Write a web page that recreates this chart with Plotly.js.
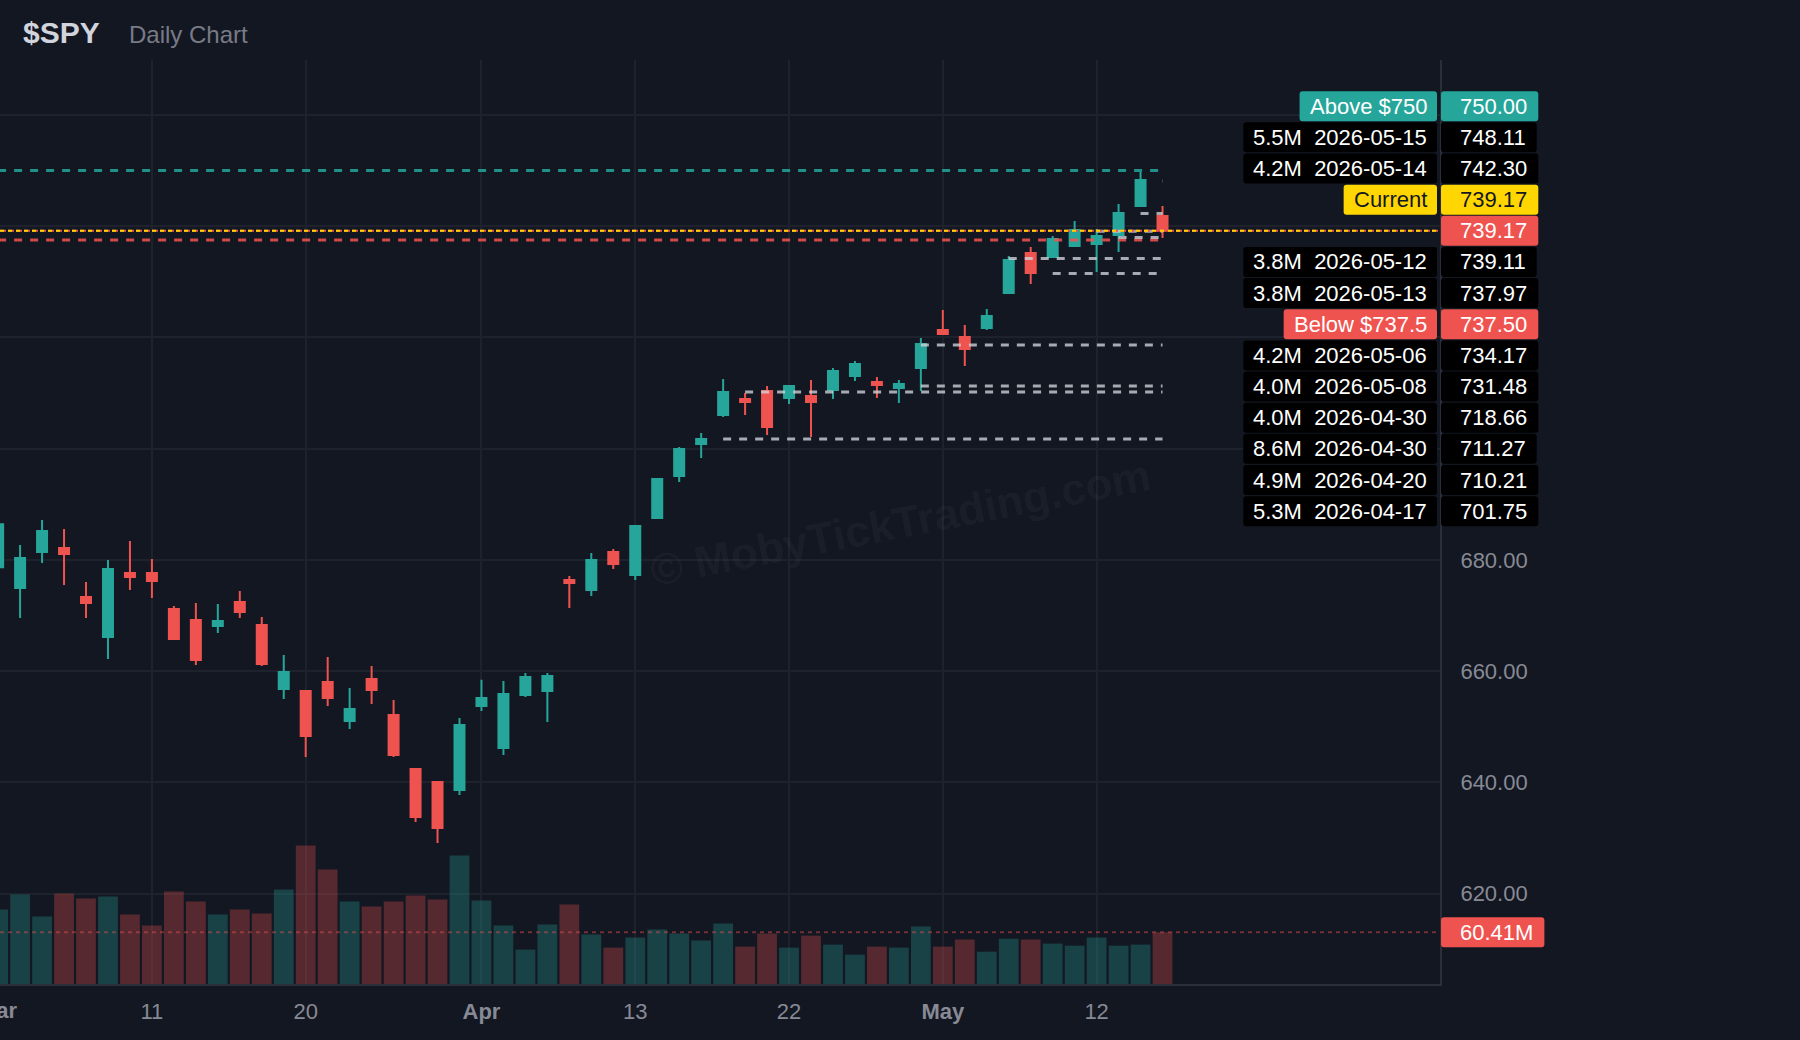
<!DOCTYPE html>
<html>
<head>
<meta charset="utf-8">
<script src="https://cdn.plot.ly/plotly-3.0.1.min.js"></script>
<style>
  html, body { margin: 0; padding: 0; background: #131722; }
  #chart { width: 1800px; height: 1040px; }
</style>
</head>
<body>
<div id="chart"></div>
<script>
// ---------------- DATA ----------------
const dates = [
  '2026-03-02','2026-03-03','2026-03-04','2026-03-05','2026-03-06','2026-03-09','2026-03-10','2026-03-11','2026-03-12','2026-03-13',
  '2026-03-16','2026-03-17','2026-03-18','2026-03-19','2026-03-20','2026-03-23','2026-03-24','2026-03-25','2026-03-26','2026-03-27',
  '2026-03-30','2026-03-31','2026-04-01','2026-04-02','2026-04-06','2026-04-07','2026-04-08','2026-04-09','2026-04-10','2026-04-13',
  '2026-04-14','2026-04-15','2026-04-16','2026-04-17','2026-04-20','2026-04-21','2026-04-22','2026-04-23','2026-04-24','2026-04-27',
  '2026-04-28','2026-04-29','2026-04-30','2026-05-01','2026-05-04','2026-05-05','2026-05-06','2026-05-07','2026-05-08','2026-05-11',
  '2026-05-12','2026-05-13','2026-05-14','2026-05-15'
];
const open = [
  678.70,674.97,681.44,682.16,673.35,666.16,677.66,677.66,671.19,669.21,
  668.13,672.45,668.31,656.81,656.45,658.07,651.05,658.60,652.13,642.42,
  640.09,638.65,653.75,646.20,655.73,656.45,676.40,674.61,681.44,677.30,
  687.55,695.10,700.86,706.07,708.95,710.39,709.13,709.49,710.57,713.08,
  712.00,710.92,714.52,721.35,720.09,721.71,728.00,735.20,734.48,736.45,
  736.81,738.43,743.65,741.85
];
const high = [
  688.00,682.70,687.19,685.57,676.04,680.00,683.42,680.18,671.73,672.27,
  672.09,674.43,669.75,662.92,656.63,662.56,656.99,660.94,654.83,642.60,
  640.27,651.59,658.43,658.25,659.68,659.68,677.12,681.26,681.98,686.29,
  694.70,700.32,702.83,712.54,710.03,711.28,711.46,712.36,714.52,715.78,
  712.90,712.36,719.91,724.95,722.25,725.13,734.66,736.28,738.25,740.95,
  739.51,744.01,749.76,743.65
];
const low = [
  677.50,669.57,679.46,675.51,669.57,662.20,674.61,673.17,665.62,661.12,
  666.88,669.57,660.94,655.01,644.58,653.75,649.62,654.11,644.58,632.89,
  629.12,637.75,652.85,644.94,655.37,650.87,671.37,673.53,678.38,676.40,
  687.40,694.02,698.34,705.71,706.07,702.47,708.05,702.11,708.95,712.18,
  709.13,708.23,710.39,720.45,714.88,721.35,727.83,729.62,734.48,736.45,
  731.78,735.38,743.47,737.89
];
const close = [
  686.40,680.36,685.21,681.08,672.27,678.38,676.94,676.22,665.80,662.02,
  669.03,670.65,661.30,659.86,648.36,655.19,653.21,656.63,644.94,633.79,
  631.82,650.33,655.19,655.91,658.96,659.14,675.86,680.00,679.28,686.11,
  694.56,699.96,701.76,710.21,708.41,703.91,711.28,708.41,713.98,715.24,
  711.46,711.64,718.83,720.63,717.94,723.87,733.94,731.60,737.71,739.33,
  738.25,742.39,748.32,739.17
];
// volume in millions of shares
const volume = [
  87.0,104.5,78.8,105.7,99.9,102.2,81.1,68.3,108.1,96.4,
  81.1,87.0,82.3,110.4,161.9,133.8,96.4,90.5,96.4,103.4,
  98.7,150.2,97.5,68.3,40.2,69.4,92.8,57.7,42.5,54.2,
  63.6,58.9,50.7,70.6,43.7,58.9,42.5,56.5,46.0,34.3,
  43.7,42.5,67.1,43.7,51.9,37.8,53.0,51.9,47.2,44.8,
  54.2,44.8,46.0,60.41
];

// price levels (dashed lines + labels on the right)
const levelPrices  = [748.11, 742.30, 739.11, 737.97, 734.17, 731.48, 718.66, 711.27, 710.21, 701.75];
const levelDates   = ['2026-05-15','2026-05-14','2026-05-12','2026-05-13','2026-05-06','2026-05-08','2026-04-30','2026-04-30','2026-04-20','2026-04-17'];
const levelVolumes = [5.5, 4.2, 3.8, 3.8, 4.2, 4.0, 4.0, 8.6, 4.9, 5.3];

const alertAbove = 750;
const alertBelow = 737.5;

const xTickDates  = ['2026-03-02','2026-03-11','2026-03-20','2026-04-01','2026-04-13','2026-04-22','2026-05-01','2026-05-12'];
const xTickLabels = ['Mar','11','20','Apr','13','22','May','12'];
const yTickValues = [620, 640, 660, 680, 700, 720, 740, 760];
const yTickShown  = [620, 640, 660, 680];

const symbol = '$SPY';
const subtitle = 'Daily Chart';
const watermark = '\u00A9 MobyTickTrading.com';

// ---------------- STYLE / LAYOUT CONSTANTS ----------------
const FONT = '"Liberation Sans", Arial, sans-serif';
const BG = '#131722', GRID = '#1e222d', AXIS = '#2a2e39', TICK = '#878a94';
const TEAL = '#26a69a', RED = '#ef5350', YELLOW = '#ffd600';
const W = 1800, H = 1040, M = {l: 0, r: 360, t: 60, b: 56};
const plotW = W - M.l - M.r, plotH = H - M.t - M.b;
const xRange = [0.085, 65.63];
const yRange = [603.75, 769.88];
const volMax = Math.max(...volume) / 0.15;   // volume pane = bottom 15%
const ROW = 31.15, BOXH = 30;

const pxX = px => (px - M.l) / plotW;
const pxY = py => (M.t + plotH - py) / plotH;
const priceToPx = v => M.t + (yRange[1] - v) / (yRange[1] - yRange[0]) * plotH;
const volToPx = v => M.t + plotH - v / volMax * plotH;

const cv = document.createElement('canvas').getContext('2d');
cv.font = '22px "Liberation Sans", Arial, sans-serif';
const measure = t => cv.measureText(t).width;

function rrect(x0, x1, y0, y1, r) {
  const X = v => pxX(v), Y = v => pxY(v);
  return `M${X(x0 + r)},${Y(y0)} L${X(x1 - r)},${Y(y0)} Q${X(x1)},${Y(y0)} ${X(x1)},${Y(y0 + r)} ` +
         `L${X(x1)},${Y(y1 - r)} Q${X(x1)},${Y(y1)} ${X(x1 - r)},${Y(y1)} L${X(x0 + r)},${Y(y1)} ` +
         `Q${X(x0)},${Y(y1)} ${X(x0)},${Y(y1 - r)} L${X(x0)},${Y(y0 + r)} Q${X(x0)},${Y(y0)} ${X(x0 + r)},${Y(y0)} Z`;
}

// ---------------- TRACES ----------------
const last = close.length - 1;
const lastClose = close[last];
const lastColor = close[last] >= open[last] ? TEAL : RED;

const volColors = close.map((c, i) => c >= open[i] ? 'rgba(38,166,154,0.3)' : 'rgba(239,83,80,0.3)');

const traces = [
  {
    type: 'bar', x: dates, y: volume, yaxis: 'y2',
    marker: {color: volColors, line: {width: 0}},
    hoverinfo: 'skip'
  },
  {
    type: 'candlestick', x: dates, open: open, high: high, low: low, close: close,
    increasing: {line: {color: TEAL, width: 2}, fillcolor: TEAL},
    decreasing: {line: {color: RED, width: 2}, fillcolor: RED},
    whiskerwidth: 0, hoverinfo: 'skip'
  }
];

// ---------------- SHAPES ----------------
const shapes = [];
const lastIdx = last;
// alert lines
shapes.push({type: 'line', layer: 'above', xref: 'x', yref: 'y', x0: 0, x1: lastIdx, y0: alertAbove, y1: alertAbove,
             line: {color: 'rgba(38,166,154,0.85)', width: 3, dash: '8px,8px'}});
shapes.push({type: 'line', layer: 'above', xref: 'x', yref: 'y', x0: 0, x1: lastIdx, y0: alertBelow, y1: alertBelow,
             line: {color: 'rgba(239,83,80,0.85)', width: 3, dash: '8px,8px'}});
// level lines
levelPrices.forEach((p, i) => {
  shapes.push({type: 'line', layer: 'above', xref: 'x', yref: 'y',
               x0: dates.indexOf(levelDates[i]), x1: lastIdx, y0: p, y1: p,
               line: {color: 'rgba(210,212,218,0.78)', width: 3, dash: '8px,8px'}});
});
// last price + current lines
shapes.push({type: 'line', layer: 'above', xref: 'paper', yref: 'y', x0: 0, x1: 1, y0: lastClose, y1: lastClose,
             line: {color: lastColor, width: 2, dash: '6px,2px'}});
shapes.push({type: 'line', layer: 'above', xref: 'paper', yref: 'y', x0: 0, x1: 1, y0: lastClose, y1: lastClose,
             line: {color: YELLOW, width: 2, dash: '4px,4px'}});
// last volume line
shapes.push({type: 'line', layer: 'above', xref: 'paper', yref: 'y2', x0: 0, x1: 1, y0: volume[last], y1: volume[last],
             line: {color: 'rgba(239,83,80,0.42)', width: 2, dash: '4px,4px'}});

// ---------------- RIGHT-SIDE LABEL STACK ----------------
const rows = [];
rows.push({price: alertAbove, label: 'Above $' + alertAbove, bg: TEAL, fg: '#ffffff', tie: 0});
levelPrices.forEach((p, i) => rows.push({
  price: p, label: levelVolumes[i].toFixed(1) + 'M\u00A0\u00A0' + levelDates[i], bg: '#000000', fg: '#ffffff', tie: 0}));
rows.push({price: lastClose, label: 'Current', bg: YELLOW, fg: '#131722', tie: 0});
rows.push({price: lastClose, label: null, bg: lastColor, fg: '#ffffff', tie: 1, anchor: true});
rows.push({price: alertBelow, label: 'Below $' + alertBelow, bg: RED, fg: '#ffffff', tie: 0});
rows.sort((a, b) => (b.price - a.price) || (a.tie - b.tie));
const k = rows.findIndex(r => r.anchor);
const anchorPx = priceToPx(lastClose);

const annotations = [];
const PRICE_X0 = 1441, LABEL_X1 = 1437;
rows.forEach((r, i) => {
  const cy = anchorPx + (i - k) * ROW;
  const priceText = r.price.toFixed(2);
  const pw = measure(priceText) + 30;
  shapes.push({type: 'path', layer: 'above', xref: 'paper', yref: 'paper',
               path: rrect(PRICE_X0, PRICE_X0 + pw, cy - BOXH / 2, cy + BOXH / 2, 3),
               fillcolor: r.bg, line: {width: 0}});
  annotations.push({xref: 'paper', yref: 'paper', x: pxX(PRICE_X0 + pw - 11), y: pxY(cy),
                    xanchor: 'right', yanchor: 'middle', text: priceText, showarrow: false,
                    borderpad: 0, borderwidth: 0, font: {family: FONT, size: 22, color: r.fg}});
  if (r.label) {
    const lw = measure(r.label) + 20;
    shapes.push({type: 'path', layer: 'above', xref: 'paper', yref: 'paper',
                 path: rrect(LABEL_X1 - lw, LABEL_X1, cy - BOXH / 2, cy + BOXH / 2, 3),
                 fillcolor: r.bg, line: {width: 0}});
    annotations.push({xref: 'paper', yref: 'paper', x: pxX(LABEL_X1 - 10), y: pxY(cy),
                      xanchor: 'right', yanchor: 'middle', text: r.label, showarrow: false,
                      borderpad: 0, borderwidth: 0, font: {family: FONT, size: 22, color: r.fg}});
  }
});

// volume label
{
  const cy = volToPx(volume[last]);
  const t = volume[last].toFixed(2) + 'M';
  const w = measure(t) + 30;
  shapes.push({type: 'path', layer: 'above', xref: 'paper', yref: 'paper',
               path: rrect(PRICE_X0, PRICE_X0 + w, cy - 15, cy + 15, 3),
               fillcolor: lastColor, line: {width: 0}});
  annotations.push({xref: 'paper', yref: 'paper', x: pxX(PRICE_X0 + w - 11), y: pxY(cy),
                    xanchor: 'right', yanchor: 'middle', text: t, showarrow: false,
                    borderpad: 0, borderwidth: 0, font: {family: FONT, size: 22, color: '#ffffff'}});
}

// x ticks (ticks out of range become annotations so they can be partially cut, as in the original)
const tickvals = [], ticktext = [];
xTickDates.forEach((d, i) => {
  const idx = dates.indexOf(d);
  const lab = /^[A-Za-z]/.test(xTickLabels[i]) ? '<b>' + xTickLabels[i] + '</b>' : xTickLabels[i];
  if (idx >= xRange[0] && idx <= xRange[1]) { tickvals.push(d); ticktext.push(lab); }
  else {
    annotations.push({xref: 'paper', yref: 'paper', x: (idx - xRange[0]) / (xRange[1] - xRange[0]),
                      y: pxY(1010.5), xanchor: 'center', yanchor: 'middle', text: lab, showarrow: false,
                      borderpad: 0, borderwidth: 0, font: {family: FONT, size: 22, color: TICK}});
  }
});

// subtitle + watermark
annotations.push({xref: 'paper', yref: 'paper', x: pxX(129), y: pxY(34.4), xanchor: 'left', yanchor: 'middle',
                  text: subtitle, showarrow: false, borderpad: 0, borderwidth: 0,
                  font: {family: FONT, size: 24, color: '#787b86'}});
annotations.push({xref: 'paper', yref: 'paper', x: pxX(900), y: pxY(522), xanchor: 'center', yanchor: 'middle',
                  text: watermark, textangle: -11, showarrow: false,
                  font: {family: FONT, size: 44, weight: 700, color: 'rgba(255,255,255,0.045)'}});

const layout = {
  width: W, height: H,
  margin: M,
  paper_bgcolor: BG, plot_bgcolor: BG,
  showlegend: false, hovermode: false,
  bargap: 0.1, boxgap: 0.35,
  font: {family: FONT, color: TICK, size: 22},
  title: {text: '<b>' + symbol + '</b>', xref: 'container', yref: 'container',
          x: 23 / W, xanchor: 'left', y: 1 - 32.3 / H, yanchor: 'middle',
          font: {family: FONT, size: 30, color: '#d1d4dc'}},
  xaxis: {
    type: 'category', range: xRange, rangeslider: {visible: false},
    tickmode: 'array', tickvals: tickvals, ticktext: ticktext,
    showgrid: true, gridcolor: GRID, gridwidth: 2,
    showline: true, linecolor: AXIS, linewidth: 2,
    ticks: '', ticklabelstandoff: 7,
    tickfont: {family: FONT, size: 22, color: TICK},
    fixedrange: true
  },
  yaxis: {
    range: yRange, side: 'right',
    tickmode: 'array', tickvals: yTickValues,
    ticktext: yTickValues.map(v => yTickShown.includes(v) ? v.toFixed(2) : ''),
    showgrid: true, gridcolor: GRID, gridwidth: 2, zeroline: false,
    showline: true, linecolor: AXIS, linewidth: 2,
    ticks: '', ticklabelstandoff: 14,
    tickfont: {family: FONT, size: 22, color: TICK},
    fixedrange: true
  },
  yaxis2: {
    overlaying: 'y', range: [0, volMax], visible: false, showgrid: false, zeroline: false, fixedrange: true
  },
  shapes: shapes,
  annotations: annotations
};

Plotly.newPlot('chart', traces, layout, {displayModeBar: false, staticPlot: true});
</script>
</body>
</html>
